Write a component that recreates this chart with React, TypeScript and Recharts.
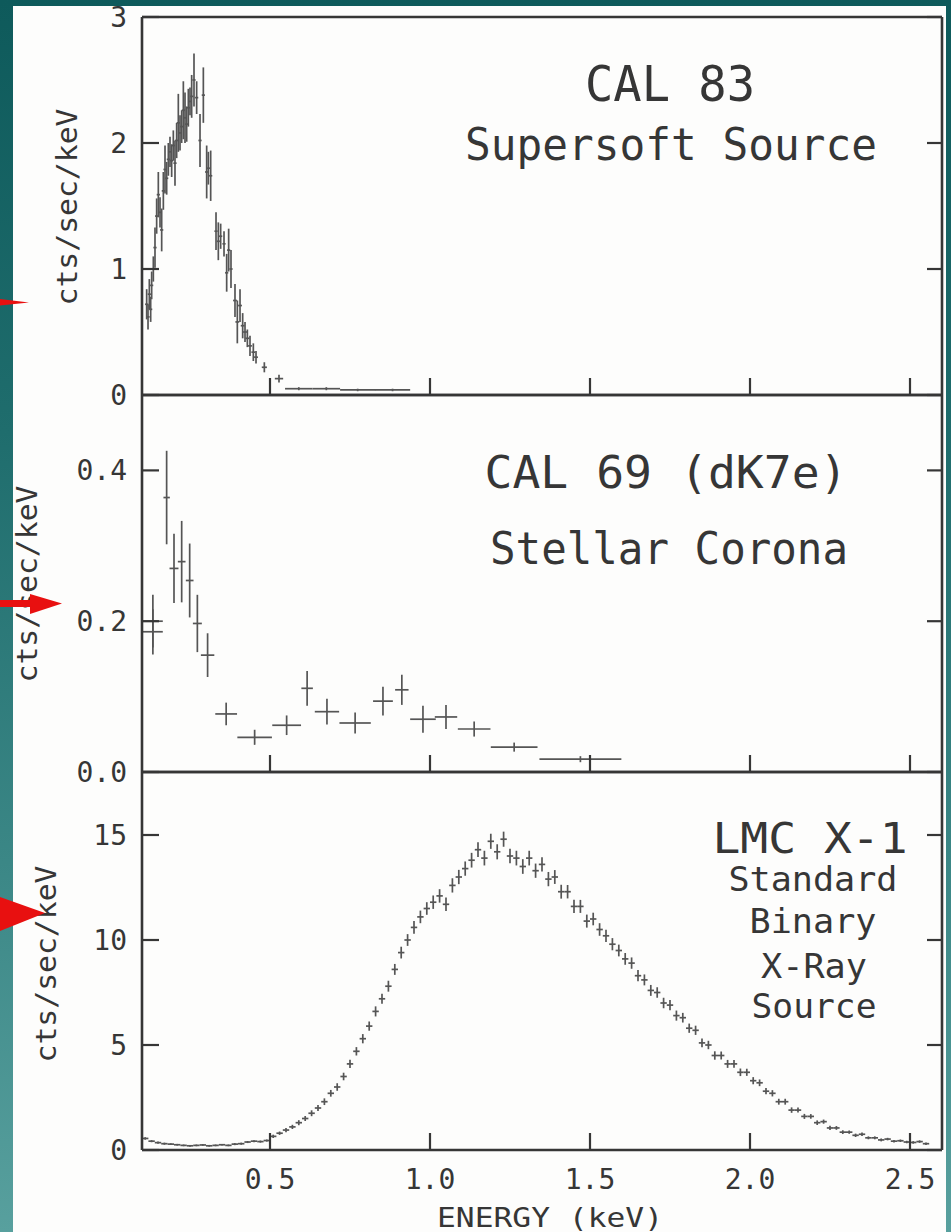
import React from 'react';
import { ScatterChart, Scatter, XAxis, YAxis, ErrorBar } from 'recharts';

// ---------- axis ticks & labels ----------
const energyTicks = [0.5, 1.0, 1.5, 2.0, 2.5];
const energyTickLabels = ['0.5', '1.0', '1.5', '2.0', '2.5'];
const energyDomain = [0.1, 2.6];

const cal83Ticks = [0, 1, 2, 3];
const cal83TickLabels = ['0', '1', '2', '3'];
const cal69Ticks = [0, 0.2, 0.4];
const cal69TickLabels = ['0.0', '0.2', '0.4'];
const lmcTicks = [0, 5, 10, 15];
const lmcTickLabels = ['0', '5', '10', '15'];

// ---------- CAL 83 (Supersoft Source) ----------
const cal83Energy = [
  0.1146, 0.1188, 0.1229, 0.1271, 0.1302, 0.1354, 0.1406, 0.1458, 0.151, 0.1563,
  0.1615, 0.1667, 0.1719, 0.1771, 0.1823, 0.1875, 0.1927, 0.1979, 0.2031, 0.2083,
  0.2135, 0.2188, 0.224, 0.2292, 0.2344, 0.2396, 0.2448, 0.25, 0.2552, 0.2625,
  0.2708, 0.2813, 0.2917, 0.3021, 0.3073, 0.3146, 0.3313, 0.3385, 0.3458, 0.3563,
  0.3646, 0.3708, 0.3781, 0.3906, 0.3979, 0.4063, 0.4146, 0.4219, 0.4292, 0.4375,
  0.4479, 0.4563, 0.4823, 0.5281, 0.59, 0.676, 0.774, 0.883,
];
const cal83Rate = [
  0.72, 0.62, 0.8, 0.68, 0.87, 1.0, 1.17, 1.42, 1.59, 1.45,
  1.31, 1.62, 1.79, 1.72, 1.87, 1.93, 1.86, 1.98, 1.84, 2.02,
  2.16, 2.08, 2.13, 2.26, 2.2, 2.15, 2.28, 2.33, 2.37, 2.5,
  2.36, 2.02, 2.38, 1.77, 1.8, 1.74, 1.3, 1.22, 1.26, 1.2,
  0.97, 1.15, 1.0, 0.75, 0.58, 0.71, 0.55, 0.5, 0.45, 0.39,
  0.34, 0.3, 0.22, 0.13, 0.05, 0.05, 0.04, 0.04,
];
const cal83RateErr = [
  0.12, 0.1, 0.12, 0.1, 0.11, 0.1, 0.16, 0.14, 0.18, 0.12,
  0.17, 0.15, 0.19, 0.13, 0.13, 0.12, 0.13, 0.12, 0.18, 0.14,
  0.23, 0.14, 0.13, 0.23, 0.2, 0.14, 0.15, 0.11, 0.17, 0.21,
  0.13, 0.21, 0.22, 0.21, 0.13, 0.2, 0.15, 0.15, 0.1, 0.1,
  0.15, 0.17, 0.15, 0.13, 0.17, 0.13, 0.1, 0.08, 0.07, 0.08,
  0.07, 0.05, 0.04, 0.03, 0.012, 0.012, 0.01, 0.01,
];
const cal83EnergyErr = [
  0.005, 0.005, 0.005, 0.005, 0.005, 0.005, 0.005, 0.005, 0.005, 0.005,
  0.005, 0.005, 0.005, 0.005, 0.005, 0.005, 0.005, 0.005, 0.005, 0.005,
  0.005, 0.005, 0.005, 0.005, 0.005, 0.005, 0.005, 0.005, 0.005, 0.005,
  0.005, 0.005, 0.005, 0.005, 0.005, 0.005, 0.005, 0.005, 0.005, 0.005,
  0.005, 0.005, 0.005, 0.006, 0.006, 0.006, 0.006, 0.006, 0.006, 0.006,
  0.006, 0.006, 0.008, 0.013, 0.043, 0.043, 0.055, 0.055,
];

// ---------- CAL 69 (Stellar Corona) ----------
const cal69Energy = [
  0.134, 0.134, 0.177, 0.2, 0.224, 0.249, 0.273, 0.305, 0.363, 0.452,
  0.552, 0.616, 0.678, 0.766, 0.853, 0.912, 0.978, 1.05, 1.138, 1.263, 1.47,
];
const cal69Rate = [
  0.2, 0.186, 0.364, 0.27, 0.279, 0.254, 0.197, 0.155, 0.077, 0.046,
  0.062, 0.111, 0.08, 0.065, 0.094, 0.109, 0.07, 0.073, 0.057, 0.033, 0.017,
];
const cal69RateErr = [
  0.035, 0.03, 0.062, 0.046, 0.054, 0.049, 0.038, 0.029, 0.015, 0.01,
  0.013, 0.023, 0.017, 0.014, 0.019, 0.02, 0.018, 0.016, 0.01, 0.006, 0.004,
];
const cal69EnergyErr = [
  0.031, 0.031, 0.01, 0.014, 0.012, 0.012, 0.014, 0.021, 0.034, 0.054,
  0.045, 0.018, 0.038, 0.049, 0.031, 0.021, 0.04, 0.035, 0.051, 0.073, 0.128,
];

// ---------- LMC X-1 (Standard Binary X-Ray Source) ----------
const lmcEnergy = [
  0.11, 0.13, 0.15, 0.17, 0.19, 0.21, 0.23, 0.25, 0.27, 0.29,
  0.31, 0.33, 0.35, 0.37, 0.39, 0.41, 0.43, 0.45, 0.47, 0.49,
  0.51, 0.53, 0.55, 0.57, 0.59, 0.61, 0.63, 0.65, 0.67, 0.69,
  0.71, 0.73, 0.75, 0.77, 0.79, 0.81, 0.83, 0.85, 0.87, 0.89,
  0.91, 0.93, 0.95, 0.97, 0.99, 1.01, 1.03, 1.05, 1.07, 1.09,
  1.11, 1.13, 1.15, 1.17, 1.19, 1.21, 1.23, 1.25, 1.27, 1.29,
  1.31, 1.33, 1.35, 1.37, 1.39, 1.41, 1.43, 1.45, 1.47, 1.49,
  1.51, 1.53, 1.55, 1.57, 1.59, 1.61, 1.63, 1.65, 1.67, 1.69,
  1.71, 1.73, 1.75, 1.77, 1.79, 1.81, 1.83, 1.85, 1.87, 1.89,
  1.91, 1.93, 1.95, 1.97, 1.99, 2.01, 2.03, 2.05, 2.07, 2.09,
  2.11, 2.13, 2.15, 2.17, 2.19, 2.21, 2.23, 2.25, 2.27, 2.29,
  2.31, 2.33, 2.35, 2.37, 2.39, 2.41, 2.43, 2.45, 2.47, 2.49,
  2.51, 2.53, 2.55,
];
const lmcRate = [
  0.55, 0.42, 0.35, 0.3, 0.28, 0.25, 0.22, 0.2, 0.22, 0.24,
  0.2, 0.22, 0.25, 0.22, 0.28, 0.3, 0.38, 0.42, 0.4, 0.45,
  0.65, 0.8, 0.95, 1.1, 1.3, 1.5, 1.75, 2.0, 2.3, 2.7,
  3.0, 3.5, 4.1, 4.7, 5.3, 5.9, 6.6, 7.2, 7.8, 8.6,
  9.4, 10.0, 10.6, 11.1, 11.5, 11.8, 12.1, 11.7, 12.6, 13.0,
  13.4, 13.8, 14.3, 13.9, 14.7, 14.2, 14.8, 14.0, 13.9, 13.5,
  13.9, 13.3, 13.6, 12.9, 13.0, 12.3, 12.3, 11.6, 11.6, 10.9,
  11.0, 10.5, 10.2, 9.8, 9.5, 9.1, 8.9, 8.3, 8.1, 7.6,
  7.5, 7.0, 6.9, 6.4, 6.3, 5.8, 5.7, 5.1, 5.0, 4.5,
  4.5, 4.1, 4.1, 3.7, 3.7, 3.3, 3.2, 2.8, 2.7, 2.3,
  2.3, 1.9, 1.9, 1.6, 1.6, 1.3, 1.35, 1.05, 1.05, 0.85,
  0.85, 0.7, 0.75, 0.58, 0.58, 0.48, 0.52, 0.42, 0.44, 0.38,
  0.36, 0.4, 0.3,
];
const lmcRateErr = [
  0.06, 0.05, 0.05, 0.05, 0.04, 0.04, 0.04, 0.04, 0.04, 0.04,
  0.04, 0.04, 0.04, 0.04, 0.05, 0.05, 0.05, 0.05, 0.05, 0.05,
  0.08, 0.08, 0.1, 0.1, 0.12, 0.12, 0.14, 0.14, 0.16, 0.16,
  0.18, 0.18, 0.2, 0.2, 0.22, 0.22, 0.24, 0.24, 0.26, 0.26,
  0.28, 0.28, 0.3, 0.3, 0.3, 0.32, 0.32, 0.32, 0.34, 0.34,
  0.34, 0.35, 0.35, 0.35, 0.36, 0.36, 0.36, 0.35, 0.35, 0.35,
  0.35, 0.34, 0.34, 0.34, 0.33, 0.33, 0.32, 0.32, 0.31, 0.31,
  0.3, 0.3, 0.29, 0.29, 0.28, 0.28, 0.27, 0.27, 0.26, 0.26,
  0.25, 0.25, 0.24, 0.24, 0.23, 0.22, 0.22, 0.21, 0.2, 0.2,
  0.19, 0.19, 0.18, 0.18, 0.17, 0.17, 0.16, 0.15, 0.15, 0.14,
  0.14, 0.13, 0.12, 0.12, 0.11, 0.11, 0.1, 0.1, 0.09, 0.09,
  0.08, 0.08, 0.08, 0.07, 0.07, 0.07, 0.06, 0.06, 0.06, 0.06,
  0.06, 0.06, 0.06,
];
const lmcBinHalfWidth = 0.01;

// ---------- style ----------
const FONT = '"DejaVu Sans Mono", "Liberation Mono", monospace';
const INK = '#363636';
const MARK = '#555555';
const W = 951;
const TICK_FONT = 28;

const cal83Data = cal83Energy.map((x, i) => ({ x, y: cal83Rate[i], ey: cal83RateErr[i], ex: cal83EnergyErr[i] }));
const cal69Data = cal69Energy.map((x, i) => ({ x, y: cal69Rate[i], ey: cal69RateErr[i], ex: cal69EnergyErr[i] }));
const lmcData = lmcEnergy.map((x, i) => ({ x, y: lmcRate[i], ey: lmcRateErr[i], ex: lmcBinHalfWidth }));

function labelFor(ticks: number[], labels: string[], v: number) {
  const i = ticks.indexOf(v);
  return i >= 0 ? labels[i] : '';
}

const BottomTick = (labels: string[] | null) => (props: any) => {
  const { x, y, payload } = props;
  return (
    <g>
      <line x1={x} x2={x} y1={y} y2={y - 17} stroke={INK} strokeWidth={2.2} />
      {labels ? (
        <text x={x} y={y + 39} textAnchor="middle" fontFamily={FONT} fontSize={TICK_FONT} fill={INK}>
          {labelFor(energyTicks, labels, payload.value)}
        </text>
      ) : null}
    </g>
  );
};

const TopTick = (props: any) => {
  const { x, y } = props;
  return <line x1={x} x2={x} y1={y} y2={y + 17} stroke={INK} strokeWidth={2.2} />;
};

const LeftTick = (ticks: number[], labels: string[]) => (props: any) => {
  const { x, y, payload } = props;
  return (
    <g>
      <line x1={x} x2={x + 17} y1={y} y2={y} stroke={INK} strokeWidth={2.2} />
      <text x={x - 15} y={y} dy={10} textAnchor="end" fontFamily={FONT} fontSize={TICK_FONT} fill={INK}>
        {labelFor(ticks, labels, payload.value)}
      </text>
    </g>
  );
};

const RightTick = (props: any) => {
  const { x, y } = props;
  return <line x1={x} x2={x - 15} y1={y} y2={y} stroke={INK} strokeWidth={2.2} />;
};

const NoShape = () => <g />;

type PanelProps = {
  top: number;
  height: number;
  plotTop: number;
  plotBottom: number;
  data: { x: number; y: number; ey: number; ex: number }[];
  yDomain: number[];
  yTicks: number[];
  yLabels: string[];
  xLabels: string[] | null;
};

// Axes get a 1px thickness (Recharts skips axes of zero size); margins compensate.
function Panel({ top, height, plotTop, plotBottom, data, yDomain, yTicks, yLabels, xLabels }: PanelProps) {
  const axisLine = { stroke: INK, strokeWidth: 2.6 };
  return (
    <div style={{ position: 'absolute', left: 0, top, width: W, height }}>
      <ScatterChart
        width={W}
        height={height}
        margin={{ top: plotTop - 1, right: 8, bottom: plotBottom - 1, left: 141 }}
      >
        <XAxis
          xAxisId="b"
          type="number"
          dataKey="x"
          orientation="bottom"
          domain={energyDomain}
          ticks={energyTicks}
          allowDataOverflow
          interval={0}
          height={1}
          tickSize={0}
          tickMargin={0}
          tickLine={false}
          axisLine={axisLine}
          tick={BottomTick(xLabels)}
        />
        <XAxis
          xAxisId="t"
          type="number"
          orientation="top"
          domain={energyDomain}
          ticks={energyTicks}
          allowDataOverflow
          interval={0}
          height={1}
          tickSize={0}
          tickMargin={0}
          tickLine={false}
          axisLine={axisLine}
          tick={TopTick}
        />
        <YAxis
          yAxisId="l"
          type="number"
          dataKey="y"
          orientation="left"
          domain={yDomain}
          ticks={yTicks}
          allowDataOverflow
          interval={0}
          width={1}
          tickSize={0}
          tickMargin={0}
          tickLine={false}
          axisLine={axisLine}
          tick={LeftTick(yTicks, yLabels)}
        />
        <YAxis
          yAxisId="r"
          type="number"
          orientation="right"
          domain={yDomain}
          ticks={yTicks}
          allowDataOverflow
          interval={0}
          width={1}
          tickSize={0}
          tickMargin={0}
          tickLine={false}
          axisLine={axisLine}
          tick={RightTick}
        />
        <Scatter data={data} xAxisId="b" yAxisId="l" isAnimationActive={false} shape={NoShape}>
          <ErrorBar dataKey="ey" direction="y" width={0} stroke={MARK} strokeWidth={1.7} isAnimationActive={false} />
          <ErrorBar dataKey="ex" direction="x" width={0} stroke={MARK} strokeWidth={1.7} isAnimationActive={false} />
        </Scatter>
      </ScatterChart>
    </div>
  );
}

function T({ x, y, size, len, children, anchor = 'middle' }: any) {
  return (
    <text
      x={x}
      y={y}
      textAnchor={anchor}
      fontFamily={FONT}
      fontSize={size}
      fill={INK}
      textLength={len}
      lengthAdjust="spacingAndGlyphs"
    >
      {children}
    </text>
  );
}

function YTitle({ x, y }: { x: number; y: number }) {
  return (
    <text
      transform={`translate(${x},${y}) rotate(-90)`}
      textAnchor="middle"
      fontFamily={FONT}
      fontSize={29}
      fill={INK}
      textLength={197}
      lengthAdjust="spacingAndGlyphs"
    >
      cts/sec/keV
    </text>
  );
}

export default function App() {
  return (
    <div
      style={{
        position: 'absolute',
        left: 0,
        top: 0,
        width: W,
        height: 1232,
        overflow: 'hidden',
        background: 'linear-gradient(180deg, #0e5a5b 0%, #1f6d6d 35%, #3b8786 70%, #58a09e 100%)',
      }}
    >
      <div style={{ position: 'absolute', left: 13, top: 6, width: 933, height: 1226, background: '#fdfdfc' }} />
      <Panel
        top={0}
        height={420}
        plotTop={17}
        plotBottom={25}
        data={cal83Data}
        yDomain={[0, 3]}
        yTicks={cal83Ticks}
        yLabels={cal83TickLabels}
        xLabels={null}
      />
      <Panel
        top={380}
        height={420}
        plotTop={15}
        plotBottom={28}
        data={cal69Data}
        yDomain={[0, 0.5]}
        yTicks={cal69Ticks}
        yLabels={cal69TickLabels}
        xLabels={null}
      />
      <Panel
        top={757}
        height={475}
        plotTop={15}
        plotBottom={82}
        data={lmcData}
        yDomain={[0, 18]}
        yTicks={lmcTicks}
        yLabels={lmcTickLabels}
        xLabels={energyTickLabels}
      />
      <svg width={W} height={1232} style={{ position: 'absolute', left: 0, top: 0, pointerEvents: 'none' }}>
        <T x={670} y={101} size={50} len={170}>CAL 83</T>
        <T x={671} y={160} size={45} len={412}>Supersoft Source</T>
        <T x={666} y={488} size={45} len={363}>CAL 69 (dK7e)</T>
        <T x={669} y={564} size={45} len={358}>Stellar Corona</T>
        <T x={810} y={853} size={43} len={195}>LMC X-1</T>
        <T x={813} y={891} size={33} len={169}>Standard</T>
        <T x={813} y={933} size={33} len={127}>Binary</T>
        <T x={814} y={978} size={33} len={106}>X-Ray</T>
        <T x={814} y={1018} size={33} len={125}>Source</T>
        <T x={550} y={1227} size={27} len={226}>ENERGY (keV)</T>
        <YTitle x={77} y={207} />
        <YTitle x={37} y={584} />
        <YTitle x={56} y={964} />
        <polygon points="0,299 29,302.5 0,305.5" fill="#e81010" />
        <rect x={0} y={600} width={33} height={7} fill="#e81010" />
        <polygon points="30,594 62,603.5 30,614" fill="#e81010" />
        <polygon points="0,897 45,913 0,931" fill="#e81010" />
      </svg>
    </div>
  );
}
